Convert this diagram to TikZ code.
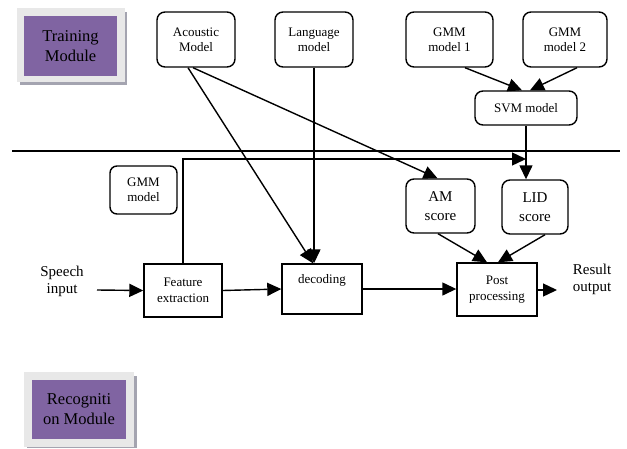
\documentclass[tikz,border=0pt]{standalone}
\usepackage{fontspec}
\setmainfont{Liberation Serif}
\usetikzlibrary{arrows.meta}

\definecolor{modpurple}{HTML}{8064A2}
\definecolor{modgray}{HTML}{E8E8E8}
\definecolor{modshadow}{HTML}{A4A4B0}

\begin{document}
\begin{tikzpicture}[x=1pt, y=-1pt, line width=1.4pt,
	>={Triangle[length=14pt,width=13pt]},
	rbox/.style={draw, rounded corners=8pt, align=center, inner sep=0pt, font=\fontsize{13}{15}\selectfont},
	sbox/.style={draw, align=center, inner sep=0pt, font=\fontsize{13}{16}\selectfont},
	plain/.style={align=center, inner sep=0pt, font=\fontsize{15}{17}\selectfont},
	module/.style={fill=modpurple, align=center, inner sep=0pt, font=\fontsize{16.5}{20}\selectfont}]
	\useasboundingbox (0,0) rectangle (627,448);

	% Module tags
	\fill [modshadow] (20,12) rectangle (127,85);
	\fill [modgray] (17,8) rectangle (125,82);
	\node [module, minimum width=93pt, minimum height=60pt] (train) at (70.5,46) {Training\\Module};
	\fill [modshadow] (27,376) rectangle (137,448);
	\fill [modgray] (24,372) rectangle (134,447);
	\node [module, minimum width=94pt, minimum height=59pt] (recog) at (79,409.5) {Recogniti\\on Module};

	% Nodes {acoustic, language, gmm1, gmm2, svm, etc}
	\node [rbox, minimum width=78pt, minimum height=55pt] (acoustic) at (196,39.5) {Acoustic\\Model};
	\node [rbox, minimum width=78pt, minimum height=55pt] (language) at (314,39.5) {Language\\model};
	\node [rbox, minimum width=87pt, minimum height=55pt] (gmm1) at (449.5,39.5) {GMM\\model 1};
	\node [rbox, minimum width=84pt, minimum height=55pt] (gmm2) at (565,39.5) {GMM\\model 2};
	\node [rbox, minimum width=102pt, minimum height=34pt] (svm) at (526,108) {SVM model};
	\node [rbox, minimum width=67pt, minimum height=48pt, rounded corners=7pt] (gmm) at (143.5,190) {GMM\\model};
	\node [rbox, minimum width=69pt, minimum height=54pt, font=\fontsize{15}{19}\selectfont] (am) at (440.5,206) {AM\\score};
	\node [rbox, minimum width=66pt, minimum height=54pt, font=\fontsize{15}{19}\selectfont] (lid) at (535,207) {LID\\score};
	\node [sbox, minimum width=78pt, minimum height=53pt] (feat) at (183,290.5) {Feature\\extraction};
	\node [sbox, minimum width=80pt, minimum height=50pt] (dec) at (322,289) {decoding\\[5pt]\mbox{}};
	\node [sbox, minimum width=80pt, minimum height=53pt] (post) at (497,289.5) {Post\\processing};
	\node [plain] (speech) at (62,281) {Speech\\input};
	\node [plain] (result) at (592,279) {Result\\output};
	\coordinate (in) at (97,290);
	\coordinate (out) at (557,290);
	\coordinate (join) at (svm.south |- 0,159);

	% Divider
	\draw [line width=1.6pt] (12,151) -- (620,151);

	% Paths
	\path [->] ([xshift=-8pt]acoustic.south) edge ([xshift=-9pt]dec.north);
	\path [->] ([xshift=-3pt]acoustic.south) edge ([xshift=-3pt]am.north);
	\path [->] (language.south) edge (language.south |- dec.north);
	\path [->] ([xshift=15.5pt]gmm1.south) edge ([xshift=-4pt]svm.north);
	\path [->] ([xshift=12pt]gmm2.south) edge ([xshift=4pt]svm.north);
	\path [->] (svm.south) edge (svm.south |- lid.north);
	\draw [->] (feat.north) |- (join);
	\path [->] ([xshift=-2.5pt]am.south) edge ([xshift=-10pt]post.north);
	\path [->] ([xshift=10pt]lid.south) edge ([xshift=1pt]post.north);
	\path [->] (in) edge (feat.west);
	\path [->] (feat.east) edge (dec.west);
	\path [->] (dec.east) edge (post.west |- dec.east);
	\path [->] (post.east |- out) edge (out);

\end{tikzpicture}
\end{document}
